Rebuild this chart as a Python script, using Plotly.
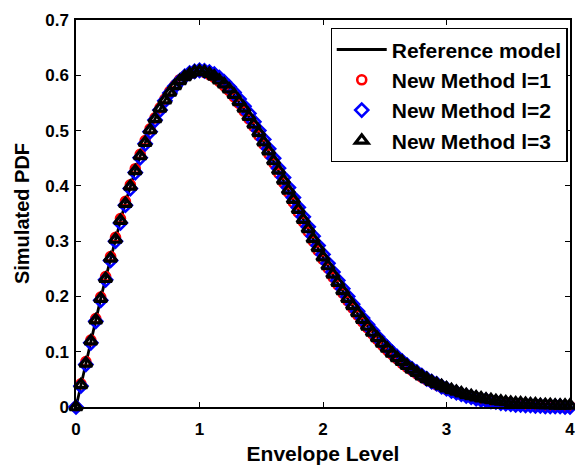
import plotly.graph_objects as go

# Envelope level sampling grid
envelope = [0.00, 0.04, 0.08, 0.12, 0.16, 0.20, 0.24, 0.28, 0.32, 0.36,
            0.40, 0.44, 0.48, 0.52, 0.56, 0.60, 0.64, 0.68, 0.72, 0.76,
            0.80, 0.84, 0.88, 0.92, 0.96, 1.00, 1.04, 1.08, 1.12, 1.16,
            1.20, 1.24, 1.28, 1.32, 1.36, 1.40, 1.44, 1.48, 1.52, 1.56,
            1.60, 1.64, 1.68, 1.72, 1.76, 1.80, 1.84, 1.88, 1.92, 1.96,
            2.00, 2.04, 2.08, 2.12, 2.16, 2.20, 2.24, 2.28, 2.32, 2.36,
            2.40, 2.44, 2.48, 2.52, 2.56, 2.60, 2.64, 2.68, 2.72, 2.76,
            2.80, 2.84, 2.88, 2.92, 2.96, 3.00, 3.04, 3.08, 3.12, 3.16,
            3.20, 3.24, 3.28, 3.32, 3.36, 3.40, 3.44, 3.48, 3.52, 3.56,
            3.60, 3.64, 3.68, 3.72, 3.76, 3.80, 3.84, 3.88, 3.92, 3.96,
            4.00]

reference_model = [0.000, 0.040, 0.080, 0.119, 0.158, 0.196, 0.233, 0.269, 0.304, 0.337,
                   0.369, 0.399, 0.428, 0.454, 0.479, 0.501, 0.521, 0.539, 0.555, 0.569,
                   0.581, 0.591, 0.597, 0.603, 0.606, 0.607, 0.606, 0.603, 0.598, 0.592,
                   0.584, 0.575, 0.564, 0.552, 0.539, 0.525, 0.511, 0.495, 0.479, 0.462,
                   0.445, 0.427, 0.410, 0.392, 0.374, 0.356, 0.339, 0.321, 0.304, 0.287,
                   0.271, 0.255, 0.239, 0.224, 0.210, 0.196, 0.182, 0.169, 0.157, 0.146,
                   0.135, 0.124, 0.115, 0.105, 0.097, 0.089, 0.081, 0.074, 0.067, 0.061,
                   0.056, 0.050, 0.046, 0.041, 0.037, 0.033, 0.030, 0.027, 0.024, 0.021,
                   0.019, 0.017, 0.015, 0.013, 0.012, 0.011, 0.009, 0.008, 0.007, 0.006,
                   0.006, 0.005, 0.004, 0.004, 0.003, 0.003, 0.002, 0.002, 0.002, 0.002,
                   0.001]

method_l1 = [0.000, 0.042, 0.082, 0.121, 0.160, 0.199, 0.236, 0.272, 0.307, 0.341,
             0.372, 0.402, 0.431, 0.457, 0.482, 0.503, 0.523, 0.541, 0.557, 0.571,
             0.582, 0.592, 0.598, 0.603, 0.606, 0.607, 0.605, 0.601, 0.596, 0.589,
             0.581, 0.572, 0.561, 0.549, 0.535, 0.521, 0.507, 0.491, 0.475, 0.458,
             0.441, 0.423, 0.406, 0.388, 0.370, 0.352, 0.335, 0.317, 0.300, 0.283,
             0.267, 0.251, 0.235, 0.221, 0.206, 0.192, 0.179, 0.166, 0.154, 0.143,
             0.132, 0.122, 0.112, 0.103, 0.095, 0.087, 0.079, 0.072, 0.066, 0.060,
             0.054, 0.049, 0.045, 0.040, 0.036, 0.032, 0.029, 0.026, 0.023, 0.021,
             0.018, 0.016, 0.014, 0.013, 0.011, 0.010, 0.009, 0.008, 0.007, 0.006,
             0.005, 0.005, 0.004, 0.003, 0.003, 0.003, 0.002, 0.002, 0.002, 0.001,
             0.001]

method_l2 = [0.000, 0.038, 0.077, 0.116, 0.155, 0.193, 0.230, 0.265, 0.300, 0.333,
             0.365, 0.395, 0.424, 0.451, 0.476, 0.498, 0.519, 0.537, 0.554, 0.568,
             0.580, 0.590, 0.598, 0.604, 0.607, 0.609, 0.608, 0.606, 0.602, 0.596,
             0.588, 0.579, 0.569, 0.557, 0.544, 0.531, 0.516, 0.500, 0.484, 0.467,
             0.450, 0.432, 0.415, 0.397, 0.379, 0.361, 0.344, 0.326, 0.309, 0.292,
             0.276, 0.260, 0.244, 0.229, 0.214, 0.200, 0.186, 0.173, 0.161, 0.149,
             0.138, 0.127, 0.117, 0.108, 0.099, 0.091, 0.083, 0.076, 0.069, 0.063,
             0.057, 0.051, 0.046, 0.042, 0.037, 0.033, 0.029, 0.026, 0.023, 0.020,
             0.018, 0.015, 0.013, 0.012, 0.010, 0.009, 0.007, 0.006, 0.005, 0.004,
             0.004, 0.003, 0.003, 0.002, 0.002, 0.001, 0.001, 0.001, 0.001, 0.000,
             0.000]

method_l3 = [0.000, 0.040, 0.079, 0.119, 0.157, 0.196, 0.232, 0.269, 0.303, 0.337,
             0.368, 0.399, 0.427, 0.454, 0.478, 0.501, 0.521, 0.540, 0.555, 0.569,
             0.581, 0.590, 0.597, 0.602, 0.606, 0.607, 0.606, 0.603, 0.598, 0.591,
             0.584, 0.575, 0.565, 0.552, 0.540, 0.525, 0.511, 0.496, 0.479, 0.463,
             0.445, 0.428, 0.410, 0.392, 0.375, 0.357, 0.339, 0.322, 0.304, 0.288,
             0.271, 0.255, 0.240, 0.225, 0.210, 0.196, 0.183, 0.170, 0.158, 0.146,
             0.135, 0.125, 0.115, 0.106, 0.097, 0.089, 0.082, 0.075, 0.068, 0.062,
             0.056, 0.051, 0.046, 0.042, 0.038, 0.034, 0.031, 0.028, 0.025, 0.022,
             0.020, 0.018, 0.016, 0.014, 0.013, 0.011, 0.010, 0.009, 0.008, 0.007,
             0.007, 0.006, 0.005, 0.005, 0.004, 0.004, 0.004, 0.003, 0.003, 0.003,
             0.003]

x_ticks = [0, 1, 2, 3, 4]
y_ticks = [0, 0.1, 0.2, 0.3, 0.4, 0.5, 0.6, 0.7]
y_tick_labels = ["0", "0.1", "0.2", "0.3", "0.4", "0.5", "0.6", "0.7"]

FONT = "Liberation Sans, Arial, sans-serif"

fig = go.Figure()
fig.add_trace(go.Scatter(x=envelope, y=reference_model, mode="lines",
                         name="Reference model",
                         line=dict(color="black", width=2.8), cliponaxis=False))
fig.add_trace(go.Scatter(x=envelope, y=method_l1, mode="markers",
                         name="New Method l=1",
                         marker=dict(symbol="circle-open", size=9, color="red",
                                     line=dict(width=2.6, color="red")),
                         cliponaxis=False))
fig.add_trace(go.Scatter(x=envelope, y=method_l2, mode="markers",
                         name="New Method l=2",
                         marker=dict(symbol="diamond-open", size=10, color="blue",
                                     line=dict(width=2.6, color="blue")),
                         cliponaxis=False))
fig.add_trace(go.Scatter(x=envelope, y=method_l3, mode="markers",
                         name="New Method l=3",
                         marker=dict(symbol="triangle-up-open", size=11, color="black",
                                     line=dict(width=3.2, color="black")),
                         cliponaxis=False))

axis_common = dict(showline=True, linecolor="black", linewidth=1.5, mirror="ticks",
                   ticks="inside", ticklen=5, tickwidth=1, tickcolor="black",
                   showgrid=False, zeroline=False, automargin=False,
                   ticklabeloverflow="allow",
                   tickfont=dict(family=FONT, size=17, color="black", weight="bold"))

fig.update_xaxes(range=[0, 4], tickvals=x_ticks, ticktext=[str(t) for t in x_ticks],
                 ticklabelstandoff=6,
                 title=dict(text="Envelope Level", standoff=14,
                            font=dict(family=FONT, size=21, color="black", weight="bold")),
                 **axis_common)
fig.update_yaxes(range=[0, 0.7], tickvals=y_ticks, ticktext=y_tick_labels,
                 ticklabelstandoff=2,
                 title=dict(text="Simulated PDF", standoff=10,
                            font=dict(family=FONT, size=20, color="black", weight="bold")),
                 **axis_common)

fig.update_layout(
    width=575, height=465,
    margin=dict(l=76, r=5, t=20, b=58, autoexpand=False),
    paper_bgcolor="white", plot_bgcolor="white",
    showlegend=True,
    legend=dict(x=0.995, y=0.979, xanchor="right", yanchor="top",
                bgcolor="white", bordercolor="black", borderwidth=1.2,
                font=dict(family=FONT, size=21, color="black", weight="bold"),
                itemwidth=50, tracegroupgap=0),
)

fig.write_html("out.html")
